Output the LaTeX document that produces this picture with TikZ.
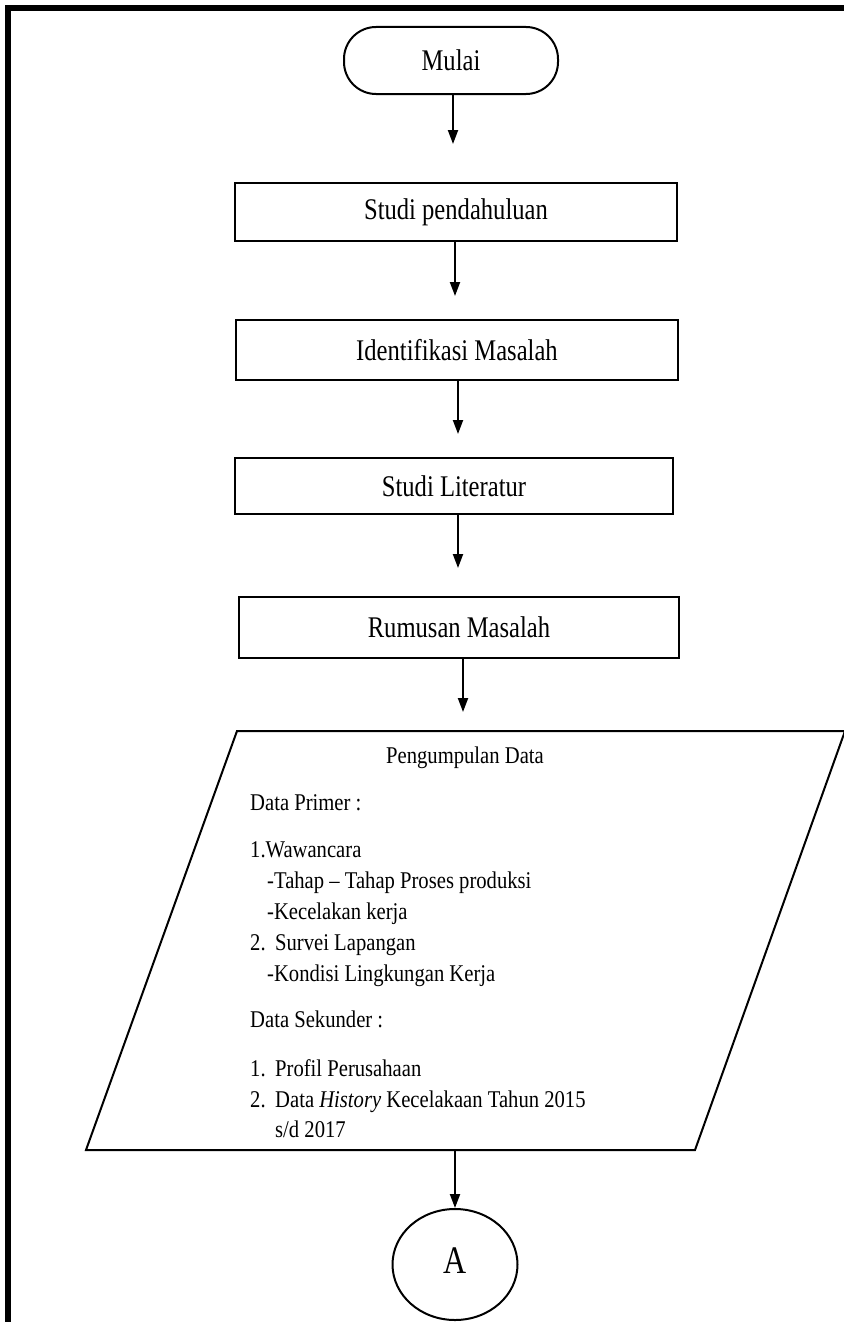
\documentclass[tikz,border=0pt]{standalone}
\usepackage{fontspec}
\setmainfont{Liberation Serif}
\newfontfamily\boxfont[FakeStretch=0.82]{Liberation Serif}
\newfontfamily\datafont[FakeStretch=0.86]{Liberation Serif}
\usetikzlibrary{arrows.meta,shapes.geometric}

\tikzset{
  flowline/.style={line width=2pt, draw=black},
  arr/.style={flowline, -{Triangle[length=14pt,width=10pt]}},
  stepbox/.style={draw=black, line width=2pt, rectangle, inner sep=0pt,
    minimum width=442pt, font=\boxfont\fontsize{30}{36}\selectfont},
  terminal/.style={draw=black, line width=2pt, rectangle, rounded corners=32pt,
    inner sep=0pt, minimum width=214pt, minimum height=67pt,
    font=\boxfont\fontsize{30}{36}\selectfont},
  connector/.style={draw=black, line width=2pt, ellipse, inner sep=0pt,
    minimum width=125pt, minimum height=111pt,
    font=\boxfont\fontsize{39}{44}\selectfont},
  dataline/.style={anchor=base west, inner sep=0pt,
    font=\datafont\fontsize{24}{29}\selectfont},
}

\begin{document}
\begin{tikzpicture}[x=1pt,y=-1pt]
  \useasboundingbox (0,0) rectangle (843,1322);

  % page frame (top and left edges)
  \draw[line width=6pt, line cap=rect] (8,1330) -- (8,8) -- (850,8);

  % start terminal and process steps
  \node[terminal] (mulai) at (451,60.5) {Mulai};
  \node[stepbox, minimum height=58pt] (sp) at (456,212) {Studi pendahuluan};
  \node[stepbox, minimum height=60pt] (im) at (457,350) {Identifikasi Masalah};
  \node[stepbox, minimum height=56pt, minimum width=438pt] (sl) at (454,486) {Studi Literatur};
  \node[stepbox, minimum height=61pt, minimum width=440pt] (rm) at (459,627.5) {Rumusan Masalah};

  % data collection (input/output parallelogram)
  \coordinate (pTL) at (237,731);
  \coordinate (pTR) at (845,731);
  \coordinate (pBR) at (695,1150);
  \coordinate (pBL) at (86,1150);
  \coordinate (pTop) at (463,731);
  \coordinate (pBot) at (455,1150);
  \draw[flowline, line join=miter] (pTL) -- (pTR) -- (pBR) -- (pBL) -- cycle;

  \node[dataline, anchor=base] (pdTitle) at (465,763) {Pengumpulan Data};
  \node[dataline] (dPrim) at (250,810) {Data Primer :};
  \node[dataline] (dW) at (250,857) {1.Wawancara};
  \node[dataline] (dT) at (267,888) {-Tahap \textendash{} Tahap Proses produksi};
  \node[dataline] (dK) at (267,919) {-Kecelakan kerja};
  \node[dataline] (dS) at (250,950) {\makebox[25pt][l]{2.}Survei Lapangan};
  \node[dataline] (dL) at (267,981) {-Kondisi Lingkungan Kerja};
  \node[dataline] (dSek) at (250,1027) {Data Sekunder :};
  \node[dataline] (dP) at (250,1076) {\makebox[25pt][l]{1.}Profil Perusahaan};
  \node[dataline] (dH) at (250,1107) {\makebox[25pt][l]{2.}Data \textit{History} Kecelakaan Tahun 2015};
  \node[dataline] (dSd) at (275,1137) {s/d 2017};

  % off-page connector
  \node[connector] (conA) at (455,1264.5) {\raisebox{8pt}{A}};

  % flow arrows
  \draw[arr, shorten >=38pt] ([xshift=2pt]mulai.south) -- ([xshift=2pt]mulai.south |- sp.north);
  \draw[arr, shorten >=23pt] ([xshift=-1pt]sp.south) -- ([xshift=-1pt]sp.south |- im.north);
  \draw[arr, shorten >=23pt] ([xshift=1pt]im.south) -- ([xshift=1pt]im.south |- sl.north);
  \draw[arr, shorten >=28pt] ([xshift=4pt]sl.south) -- ([xshift=4pt]sl.south |- rm.north);
  \draw[arr, shorten >=19pt] ([xshift=4pt]rm.south) -- (pTop);
  \draw[arr] (pBot) -- (conA.north);
\end{tikzpicture}
\end{document}
